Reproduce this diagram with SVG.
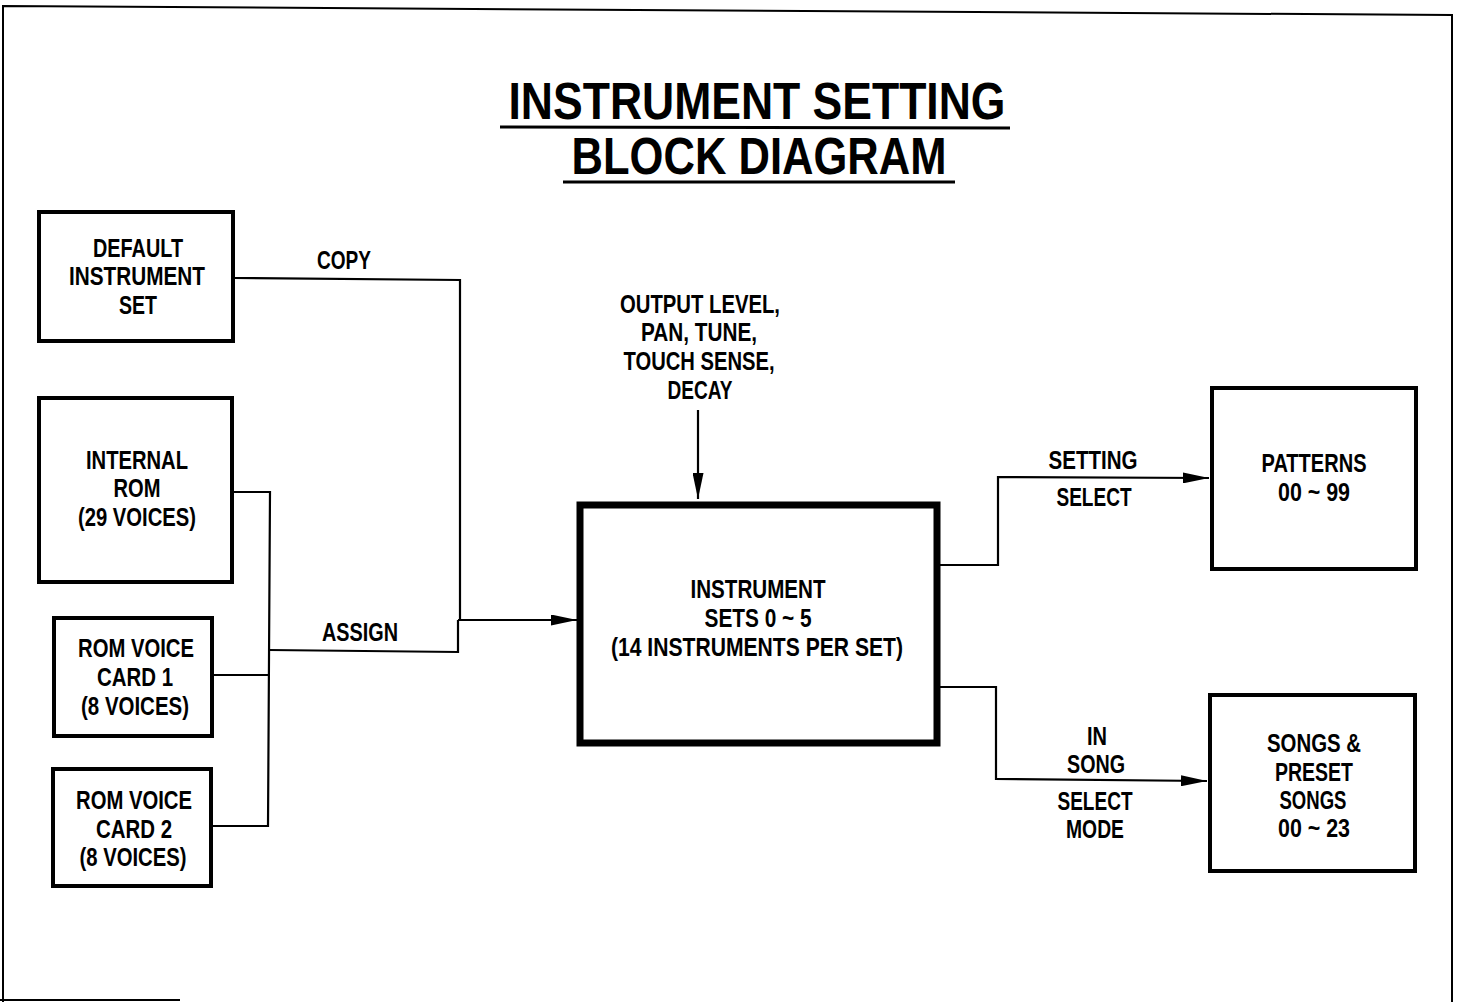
<svg xmlns="http://www.w3.org/2000/svg" width="1458" height="1002" viewBox="0 0 1458 1002">
<style>
text{font-family:"Liberation Sans",Arial,sans-serif;font-weight:bold;fill:#000;text-anchor:middle}
.t{font-size:51px}
.l{font-size:26px}
.box{fill:#fff;stroke:#000;stroke-width:4}
.big{fill:#fff;stroke:#000;stroke-width:7}
.c{fill:none;stroke:#000;stroke-width:2.2}
.frame{fill:none;stroke:#000;stroke-width:2}
</style>
<defs>
<marker id="ah" viewBox="0 0 26 11" refX="26" refY="5.5" markerWidth="26" markerHeight="11" markerUnits="userSpaceOnUse" orient="auto">
<path d="M0,0 L26,5.5 L0,11 Z" fill="#000"/>
</marker>
</defs>
<rect width="1458" height="1002" fill="#fff"/>
<g id="frame">
<path class="frame" d="M3,1002 L3,6 L1452,15 L1452,1002"/>
<path class="frame" d="M0,1000 L180,1000"/>
</g>
<g id="title">
<text class="t" x="757" y="119" textLength="497" lengthAdjust="spacingAndGlyphs">INSTRUMENT SETTING</text>
<line x1="500" y1="127" x2="1010" y2="128" stroke="#000" stroke-width="3"/>
<text class="t" x="759" y="174" textLength="375" lengthAdjust="spacingAndGlyphs">BLOCK DIAGRAM</text>
<line x1="563" y1="182" x2="955" y2="182" stroke="#000" stroke-width="3"/>
</g>
<g id="connectors">
<path class="c" d="M234,278 L460,280 L460,620"/>
<path class="c" d="M458,620 L577,620" marker-end="url(#ah)"/>
<path class="c" d="M269,650 L458,652 L458,620"/>
<path class="c" d="M233,492 L270,492 L268,826 L213,826"/>
<path class="c" d="M213,675 L268,675"/>
<path class="c" d="M698,410 L698,499" marker-end="url(#ah)"/>
<path class="c" d="M940,565 L998,565 L998,477 L1209,478" marker-end="url(#ah)"/>
<path class="c" d="M940,687 L996,687 L996,779 L1207,781" marker-end="url(#ah)"/>
<text class="l" x="344" y="269" textLength="54" lengthAdjust="spacingAndGlyphs">COPY</text>
<text class="l" x="360" y="641" textLength="76" lengthAdjust="spacingAndGlyphs">ASSIGN</text>
<text class="l" x="700" y="313" textLength="160" lengthAdjust="spacingAndGlyphs">OUTPUT LEVEL,</text>
<text class="l" x="699" y="341" textLength="116" lengthAdjust="spacingAndGlyphs">PAN, TUNE,</text>
<text class="l" x="699" y="370" textLength="151" lengthAdjust="spacingAndGlyphs">TOUCH SENSE,</text>
<text class="l" x="700" y="399" textLength="65" lengthAdjust="spacingAndGlyphs">DECAY</text>
<text class="l" x="1093" y="469" textLength="89" lengthAdjust="spacingAndGlyphs">SETTING</text>
<text class="l" x="1094" y="506" textLength="75" lengthAdjust="spacingAndGlyphs">SELECT</text>
<text class="l" x="1097" y="745" textLength="20" lengthAdjust="spacingAndGlyphs">IN</text>
<text class="l" x="1096" y="773" textLength="58" lengthAdjust="spacingAndGlyphs">SONG</text>
<text class="l" x="1095" y="810" textLength="75" lengthAdjust="spacingAndGlyphs">SELECT</text>
<text class="l" x="1095" y="838" textLength="58" lengthAdjust="spacingAndGlyphs">MODE</text>
</g>
<g id="default-instrument-set">
<rect class="box" x="39" y="212" width="194" height="129"/>
<text class="l" x="138" y="257" textLength="90" lengthAdjust="spacingAndGlyphs">DEFAULT</text>
<text class="l" x="137" y="285" textLength="136" lengthAdjust="spacingAndGlyphs">INSTRUMENT</text>
<text class="l" x="138" y="314" textLength="38" lengthAdjust="spacingAndGlyphs">SET</text>
</g>
<g id="internal-rom">
<rect class="box" x="39" y="398" width="193" height="184"/>
<text class="l" x="137" y="469" textLength="102" lengthAdjust="spacingAndGlyphs">INTERNAL</text>
<text class="l" x="137" y="497" textLength="47" lengthAdjust="spacingAndGlyphs">ROM</text>
<text class="l" x="137" y="526" textLength="118" lengthAdjust="spacingAndGlyphs">(29 VOICES)</text>
</g>
<g id="rom-voice-card-1">
<rect class="box" x="54" y="618" width="158" height="118"/>
<text class="l" x="136" y="657" textLength="116" lengthAdjust="spacingAndGlyphs">ROM VOICE</text>
<text class="l" x="135" y="686" textLength="76" lengthAdjust="spacingAndGlyphs">CARD 1</text>
<text class="l" x="135" y="715" textLength="108" lengthAdjust="spacingAndGlyphs">(8 VOICES)</text>
</g>
<g id="rom-voice-card-2">
<rect class="box" x="53" y="769" width="158" height="117"/>
<text class="l" x="134" y="809" textLength="116" lengthAdjust="spacingAndGlyphs">ROM VOICE</text>
<text class="l" x="134" y="838" textLength="76" lengthAdjust="spacingAndGlyphs">CARD 2</text>
<text class="l" x="133" y="866" textLength="107" lengthAdjust="spacingAndGlyphs">(8 VOICES)</text>
</g>
<g id="instrument-sets">
<rect class="big" x="580" y="505" width="357" height="238"/>
<text class="l" x="758" y="598" textLength="135" lengthAdjust="spacingAndGlyphs">INSTRUMENT</text>
<text class="l" x="758" y="627" textLength="107" lengthAdjust="spacingAndGlyphs">SETS 0 ~ 5</text>
<text class="l" x="757" y="656" textLength="292" lengthAdjust="spacingAndGlyphs">(14 INSTRUMENTS PER SET)</text>
</g>
<g id="patterns">
<rect class="box" x="1212" y="388" width="204" height="181"/>
<text class="l" x="1314" y="472" textLength="105" lengthAdjust="spacingAndGlyphs">PATTERNS</text>
<text class="l" x="1314" y="501" textLength="72" lengthAdjust="spacingAndGlyphs">00 ~ 99</text>
</g>
<g id="songs">
<rect class="box" x="1210" y="695" width="205" height="176"/>
<text class="l" x="1314" y="752" textLength="94" lengthAdjust="spacingAndGlyphs">SONGS &amp;</text>
<text class="l" x="1314" y="781" textLength="78" lengthAdjust="spacingAndGlyphs">PRESET</text>
<text class="l" x="1313" y="809" textLength="67" lengthAdjust="spacingAndGlyphs">SONGS</text>
<text class="l" x="1314" y="837" textLength="72" lengthAdjust="spacingAndGlyphs">00 ~ 23</text>
</g>
</svg>
